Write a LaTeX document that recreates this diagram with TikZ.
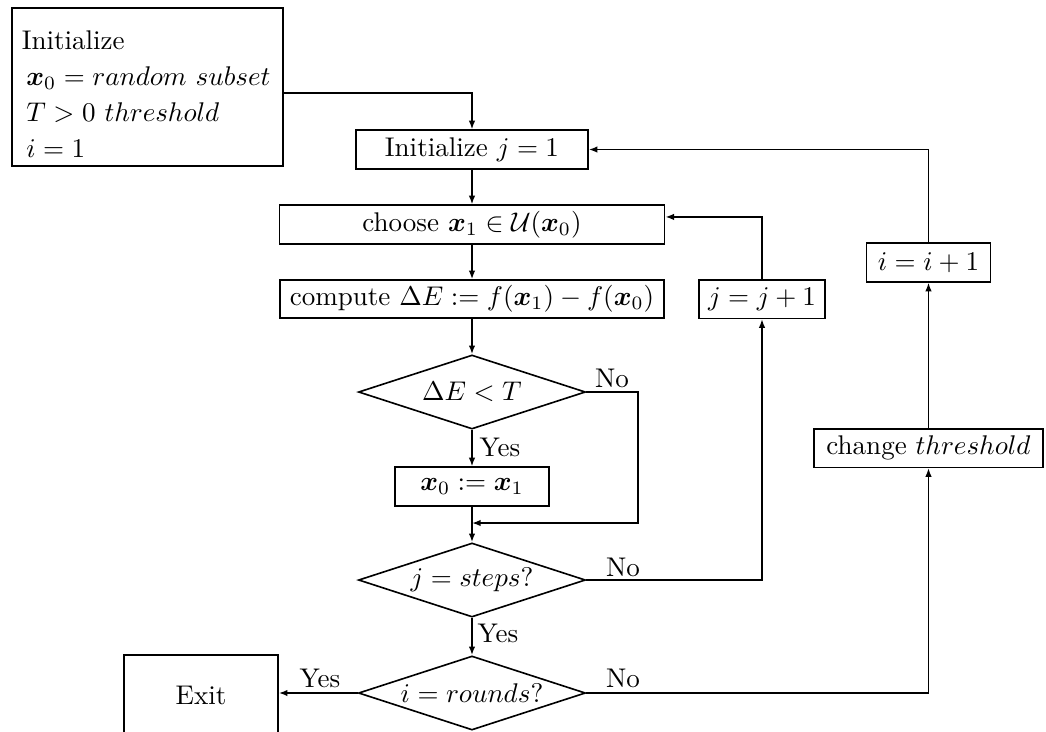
\documentclass[tikz,border=0pt]{standalone}
\usepackage{amsmath,amssymb}
\usepackage{bm}
\usetikzlibrary{arrows.meta, shapes.geometric, positioning}

\begin{document}
\begin{tikzpicture}[
    x=0.37pt, y=-0.37pt,
    line width=0.6pt,
    box/.style = {rectangle, draw, inner sep=0pt, minimum height=14.3pt,
                  align=center},
    dec/.style = {diamond, draw, inner sep=0pt, aspect=3.07,
                  minimum width=84pt, minimum height=27.4pt},
    lbl/.style = {inner sep=0pt},
    arr/.style = {-{Latex[length=3.2pt, width=2.4pt]}}
  ]
  \clip (0,0) rectangle (1046,731);

  \node[box, minimum width=100.3pt, minimum height=58.5pt, align=left,
        text width=93pt] (init) at (147.5,87)
       {Initialize\rule{0pt}{12pt}\\[1.3pt]
        \hspace*{1.7pt}$\bm{x}_0 = random\ subset$\\[1.3pt]
        \hspace*{1.7pt}$T > 0\ threshold$\\[1.3pt]
        \hspace*{1.7pt}$i = 1$};
  \node[box, minimum width=85.8pt] (initj) at (472,149.5) {Initialize $j = 1$};
  \node[box, minimum width=142.5pt] (choose) at (472,224.5)
       {choose $\bm{x}_1 \in \mathcal{U}(\bm{x}_0)$};
  \node[box, minimum width=142pt, minimum height=14pt] (comp) at (472,299)
       {compute $\Delta E := f(\bm{x}_1) - f(\bm{x}_0)$};
  \node[dec] (dlt) at (472,392) {$\Delta E < T$};
  \node[box, minimum width=57pt] (upd) at (472,486.5) {$\bm{x}_0 := \bm{x}_1$};
  \coordinate (mrg) at (472,523);
  \node[dec] (jst) at (472,580) {$j = steps?$};
  \node[dec] (ird) at (472,693) {$i = rounds?$};
  \node[box, minimum width=57pt, minimum height=29.6pt] (exit) at (201,695) {Exit};
  \node[box, minimum width=46.6pt] (jinc) at (762,299) {$j = j + 1$};
  \node[box, minimum width=45.9pt] (iinc) at (928.5,262.5) {$i = i + 1$};
  \node[box, minimum width=84.7pt] (thr) at (928.5,448) {change $threshold$};

  % branch labels
  \node[lbl] (no1)  at (612,378) {No};
  \node[lbl] (yes1) at (500,447) {Yes};
  \node[lbl] (no2)  at (623,567) {No};
  \node[lbl] (yes2) at (498,633) {Yes};
  \node[lbl] (no3)  at (623,678) {No};
  \node[lbl] (yes3) at (320,678) {Yes};

  \draw[arr] ([yshift=-2.2pt]init.east) -| (initj.north);
  \draw[arr] (initj) -- (choose);
  \draw[arr] (choose) -- (comp);
  \draw[arr] (comp) -- (dlt);
  \draw[arr] (dlt) -- (upd);
  \draw[arr] (dlt.east) -- ++(51.5,0) |- (mrg);
  \draw[arr] (upd) -- (jst);
  \draw[arr] (jst.east) -| (jinc.south);
  \draw[arr] (jinc.north) |- ([yshift=2.8pt]choose.east);
  \draw[arr] (jst) -- (ird);
  \draw[arr] (ird.west) -- (exit.east |- ird.west);
  \draw[arr] (ird.east) -| (thr.south);
  \draw[arr] (thr) -- (iinc);
  \draw[arr] (iinc.north) |- (initj.east);
\end{tikzpicture}
\end{document}
